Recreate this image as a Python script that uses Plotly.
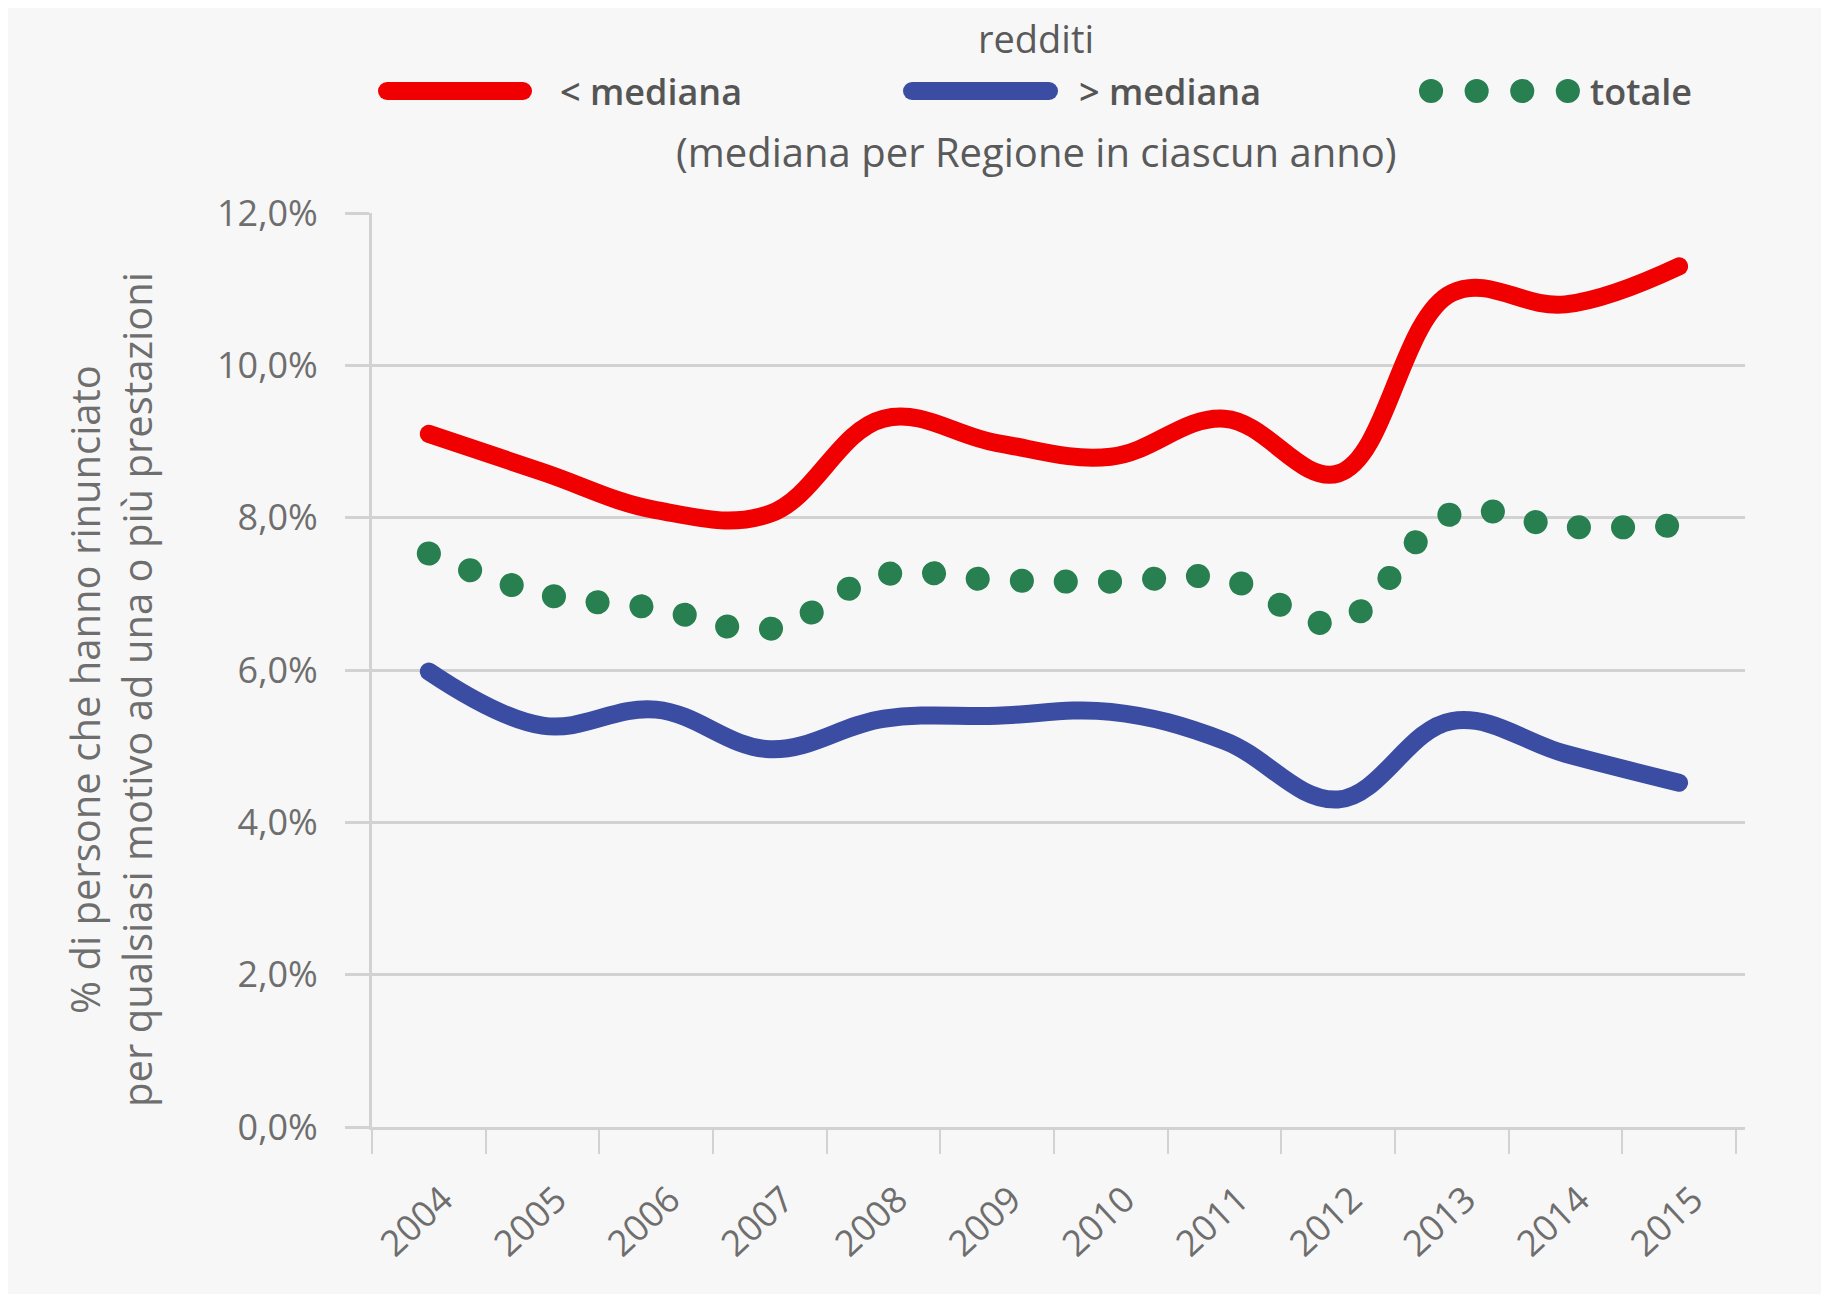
import plotly.graph_objects as go

# ---- data ----
years = ["2004", "2005", "2006", "2007", "2008", "2009",
         "2010", "2011", "2012", "2013", "2014", "2015"]
below_median = [9.10, 8.60, 8.10, 8.05, 9.30, 8.98, 8.80, 9.30, 8.58, 10.95, 10.80, 11.30]
above_median = [5.98, 5.27, 5.48, 4.96, 5.36, 5.40, 5.45, 5.07, 4.30, 5.33, 4.90, 4.52]
total = [7.53, 7.00, 6.81, 6.54, 7.25, 7.18, 7.16, 7.20, 6.62, 8.05, 7.88, 7.90]

y_tick_values = [0, 2, 4, 6, 8, 10, 12]
y_tick_labels = ["0,0%", "2,0%", "4,0%", "6,0%", "8,0%", "10,0%", "12,0%"]

series_names = ["< mediana", "> mediana", "totale"]
series_colors = ["#f00000", "#3a4da3", "#287f4f"]

FONT = "Open Sans"
BG = "#f7f7f7"
GRID = "#d2d2d2"
TICKC = "#6e6e6e"
LEGC = "#555555"

# page pixel -> paper coordinates (plot area: x 372..1745, y 213..1127 on the page)
def px(x):
    return (x - 372) / 1373


def py(y):
    return (1127 - y) / 914


fig = go.Figure()
fig.add_trace(go.Scatter(x=years, y=below_median, name=series_names[0], mode="lines",
                         line=dict(color=series_colors[0], width=18, shape="spline", smoothing=1.1)))
fig.add_trace(go.Scatter(x=years, y=above_median, name=series_names[1], mode="lines",
                         line=dict(color=series_colors[1], width=18, shape="spline", smoothing=1.1)))
fig.add_trace(go.Scatter(x=years, y=total, name=series_names[2], mode="lines",
                         line=dict(color=series_colors[2], width=24, shape="spline", smoothing=1.1,
                                   dash="0.1px,44px")))

LEG_Y = 91
legend_shapes = [
    dict(type="line", xref="paper", yref="paper", x0=px(387), x1=px(523), y0=py(LEG_Y), y1=py(LEG_Y),
         line=dict(color=series_colors[0], width=18)),
    dict(type="line", xref="paper", yref="paper", x0=px(912), x1=px(1049), y0=py(LEG_Y), y1=py(LEG_Y),
         line=dict(color=series_colors[1], width=18)),
    dict(type="line", xref="paper", yref="paper", x0=px(1431), x1=px(1570), y0=py(LEG_Y), y1=py(LEG_Y),
         line=dict(color=series_colors[2], width=24, dash="0.1px,45.5px")),
]

legend_texts = [
    dict(text=series_names[0], x=px(558)),
    dict(text=series_names[1], x=px(1077)),
    dict(text=series_names[2], x=px(1588)),
]
legend_annotations = [
    dict(text=t["text"], xref="paper", yref="paper", x=t["x"], y=py(LEG_Y), xanchor="left",
         yanchor="middle", showarrow=False,
         font=dict(family=FONT, size=36, color=LEGC, weight=600))
    for t in legend_texts
]

fig.update_layout(
    width=1829, height=1294,
    paper_bgcolor=BG, plot_bgcolor=BG,
    margin=dict(l=364, r=92, t=205, b=175),
    font=dict(family=FONT, size=36, color=TICKC),
    showlegend=False,
    xaxis=dict(type="category", range=[-0.5, 11.58], showgrid=False,
               showline=True, linecolor=GRID, linewidth=3,
               ticks="outside", tickson="boundaries", ticklen=24, tickcolor=GRID, tickwidth=2,
               tickangle=-43, ticklabelstandoff=34, ticklabelshift=14,
               tickfont=dict(family=FONT, size=36, color=TICKC)),
    yaxis=dict(range=[0, 12], tickvals=y_tick_values, ticktext=y_tick_labels,
               showgrid=True, gridcolor=GRID, gridwidth=3, zeroline=False,
               showline=True, linecolor=GRID, linewidth=3,
               ticks="outside", ticklen=24, tickcolor=GRID, tickwidth=3,
               ticklabelstandoff=20,
               tickfont=dict(family=FONT, size=36, color=TICKC)),
    shapes=legend_shapes,
    annotations=legend_annotations + [
        dict(text="redditi", xref="paper", yref="paper", x=px(1036), y=py(38),
             xanchor="center", yanchor="middle", showarrow=False,
             font=dict(family=FONT, size=38, color="#5a5a5a")),
        dict(text="(mediana per Regione in ciascun anno)", xref="paper", yref="paper",
             x=px(1036), y=py(152), xanchor="center", yanchor="middle", showarrow=False,
             font=dict(family=FONT, size=40, color="#5a5a5a")),
        dict(text="% di persone che hanno rinunciato<br>per qualsiasi motivo ad una o più prestazioni",
             xref="paper", yref="paper", x=px(110), y=py(690),
             xanchor="center", yanchor="middle", textangle=-90, showarrow=False,
             font=dict(family=FONT, size=40, color=TICKC)),
    ],
)

post = """
var gd = document.getElementById('{plot_id}');
function rc(){
  gd.querySelectorAll('path.js-line, .shapelayer path').forEach(function(p){ p.style.strokeLinecap='round'; });
}
rc();
gd.on('plotly_afterplot', rc);
"""

fig.write_html("out.html", post_script=post)
